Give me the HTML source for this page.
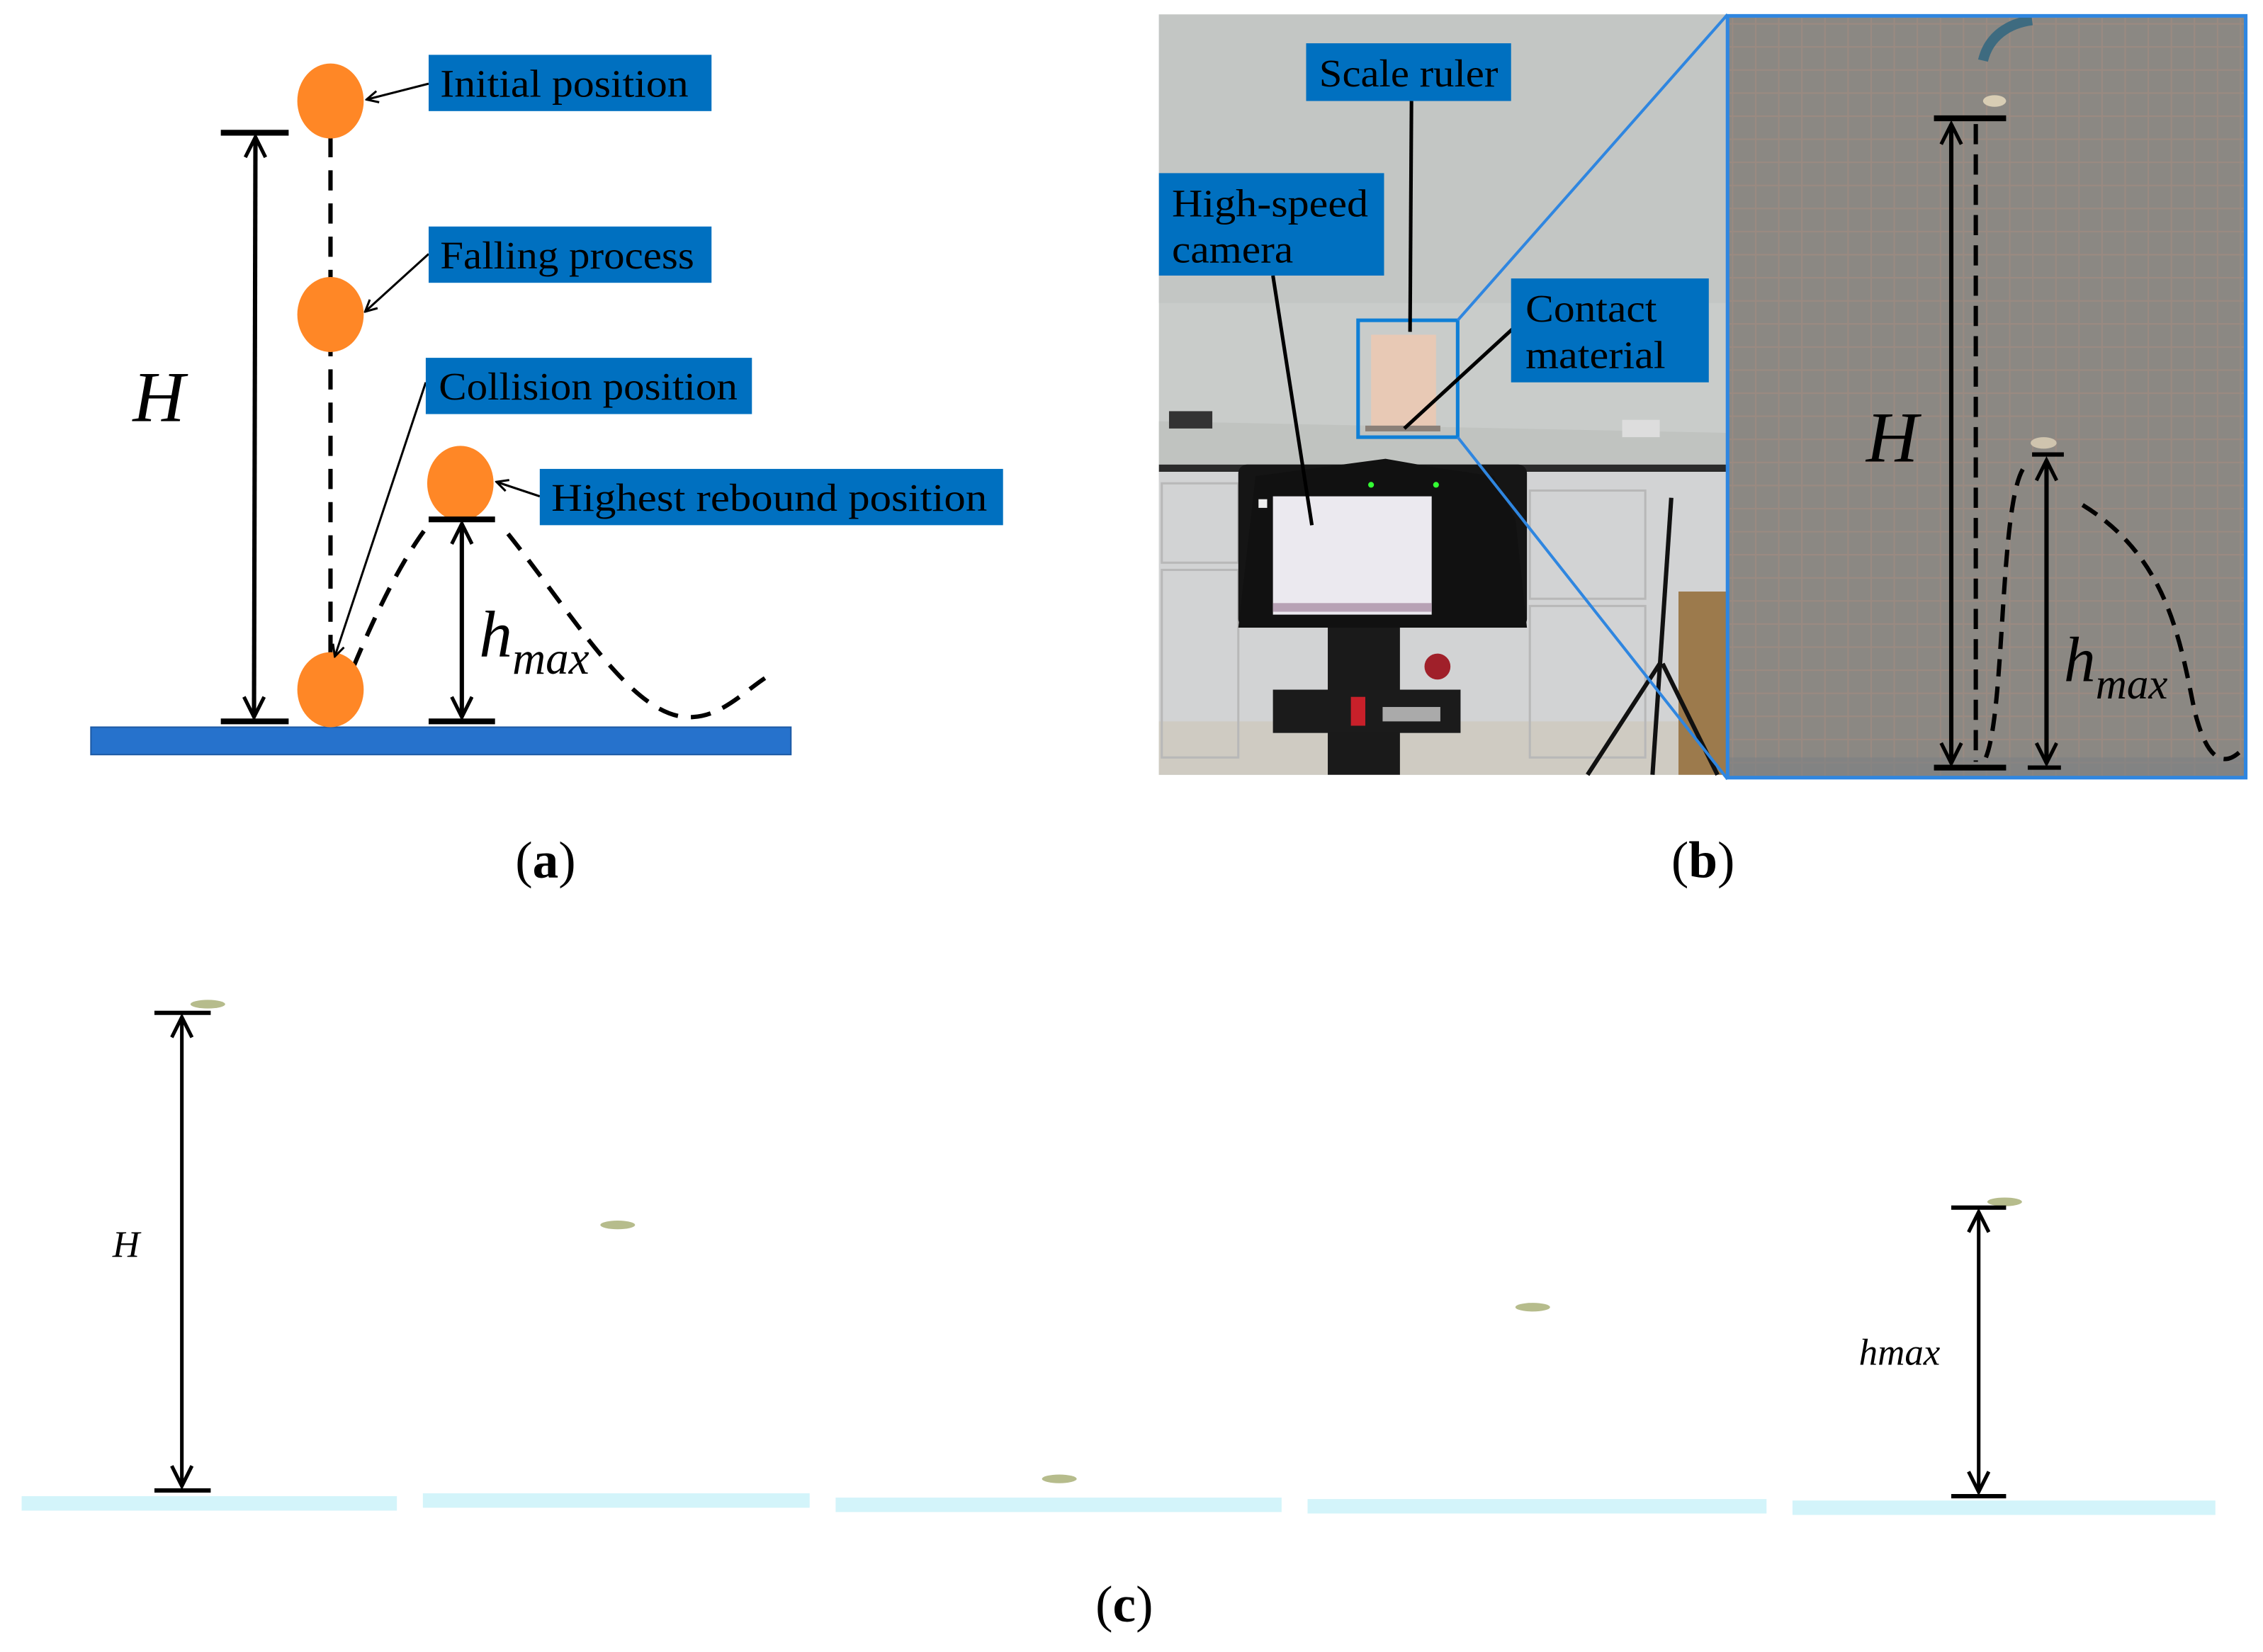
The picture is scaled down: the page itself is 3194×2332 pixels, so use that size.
<!DOCTYPE html>
<html><head><meta charset="utf-8"><style>
html,body{margin:0;padding:0;background:#fff;}
svg{display:block;}
text{font-family:"Liberation Serif",serif;}
</style></head><body>
<svg width="3194" height="2332" viewBox="0 0 1568 1145" preserveAspectRatio="none" xmlns="http://www.w3.org/2000/svg">
<defs>
<marker id="ah" markerWidth="10" markerHeight="10" refX="9" refY="5" orient="auto" markerUnits="userSpaceOnUse"><path d="M1,1 L9,5 L1,9" fill="none" stroke="#000" stroke-width="1.5"/></marker>
<marker id="ab" markerWidth="20" markerHeight="20" refX="15" refY="8" orient="auto-start-reverse" markerUnits="userSpaceOnUse"><path d="M1,1 L15,8 L1,15" fill="none" stroke="#000" stroke-width="2.5"/></marker>
<pattern id="grid" width="16" height="16" patternUnits="userSpaceOnUse"><rect width="16" height="16" fill="#8d8985"/><path d="M0,0.5 H16 M0.5,0 V16" stroke="#a48c82" stroke-width="1"/></pattern>
</defs>

<!-- Panel (a) -->
<rect x="63" y="504" width="485" height="19" fill="#2672CC" stroke="#1d5aa5" stroke-width="1"/>
<line x1="229" y1="95" x2="229" y2="458" stroke="#000" stroke-width="3" stroke-dasharray="14,9"/>
<path d="M245,462 Q275,390 300,360" fill="none" stroke="#000" stroke-width="3" stroke-dasharray="14,9"/>
<path d="M352,370 C400,430 440,500 480,497 C500,496 515,480 530,470" fill="none" stroke="#000" stroke-width="3" stroke-dasharray="14,9"/>
<ellipse cx="229" cy="70" rx="23" ry="26" fill="#FF8726"/>
<ellipse cx="229" cy="218" rx="23" ry="26" fill="#FF8726"/>
<ellipse cx="229" cy="478" rx="23" ry="26" fill="#FF8726"/>
<ellipse cx="319" cy="335" rx="23" ry="26" fill="#FF8726"/>
<line x1="153" y1="92" x2="200" y2="92" stroke="#000" stroke-width="4"/>
<line x1="153" y1="500" x2="200" y2="500" stroke="#000" stroke-width="4"/>
<line x1="177" y1="95" x2="176" y2="497" stroke="#000" stroke-width="3" marker-start="url(#ab)" marker-end="url(#ab)"/>
<line x1="297" y1="360" x2="343" y2="360" stroke="#000" stroke-width="4"/>
<line x1="297" y1="500" x2="343" y2="500" stroke="#000" stroke-width="4"/>
<line x1="320" y1="363" x2="320" y2="497" stroke="#000" stroke-width="3" marker-start="url(#ab)" marker-end="url(#ab)"/>
<text x="92" y="292" font-size="50" font-style="italic">H</text>
<text x="332" y="455" font-size="46" font-style="italic">h<tspan font-size="32" dy="12">max</tspan></text>
<line x1="297" y1="58" x2="254" y2="69" stroke="#000" stroke-width="1.5" marker-end="url(#ah)"/>
<line x1="297" y1="176" x2="253" y2="216" stroke="#000" stroke-width="1.5" marker-end="url(#ah)"/>
<line x1="295" y1="265" x2="232" y2="455" stroke="#000" stroke-width="1.5" marker-end="url(#ah)"/>
<line x1="374" y1="344" x2="344" y2="334" stroke="#000" stroke-width="1.5" marker-end="url(#ah)"/>
<rect x="297" y="38" width="196" height="39" fill="#0070C0"/>
<text x="305" y="67" font-size="27" textLength="172" lengthAdjust="spacingAndGlyphs">Initial position</text>
<rect x="297" y="157" width="196" height="39" fill="#0070C0"/>
<text x="305" y="186" font-size="27" textLength="176" lengthAdjust="spacingAndGlyphs">Falling process</text>
<rect x="295" y="248" width="226" height="39" fill="#0070C0"/>
<text x="304" y="277" font-size="27" textLength="207" lengthAdjust="spacingAndGlyphs">Collision position</text>
<rect x="374" y="325" width="321" height="39" fill="#0070C0"/>
<text x="382" y="354" font-size="27" textLength="302" lengthAdjust="spacingAndGlyphs">Highest rebound position</text>
<text x="378" y="608" font-size="36" text-anchor="middle">(<tspan font-weight="bold">a</tspan>)</text>

<!-- Panel (b) photo -->
<rect x="803" y="10" width="393" height="527" fill="#c9ccca"/>
<rect x="803" y="10" width="393" height="200" fill="#c3c6c4"/>
<polygon points="803,292 1196,300 1196,330 803,322" fill="#c0c3c0"/>
<rect x="803" y="322" width="393" height="5" fill="#2a2a2a"/>
<rect x="803" y="327" width="393" height="210" fill="#d2d3d4"/>
<rect x="803" y="500" width="393" height="37" fill="#cfcbc2"/>
<g stroke="#b8b8b8" stroke-width="1.5" fill="none">
<rect x="805" y="335" width="53" height="55"/><rect x="805" y="395" width="53" height="130"/>
<rect x="1060" y="340" width="80" height="75"/><rect x="1060" y="420" width="80" height="105"/>
</g>
<rect x="950" y="232" width="45" height="65" fill="#e8c9b5"/>
<rect x="946" y="295" width="52" height="4" fill="#8a8078"/>
<rect x="1124" y="291" width="26" height="12" fill="#ddd"/>
<rect x="810" y="285" width="30" height="12" fill="#333"/>
<rect x="858" y="322" width="200" height="113" rx="6" fill="#151515"/>
<path d="M870,330 L960,318 L1000,325 L1035,330 L1050,360 L1058,435 L858,435 Z" fill="#111"/>
<rect x="882" y="344" width="110" height="82" fill="#ebe9ef"/>
<rect x="882" y="418" width="110" height="6" fill="#b7a2b5"/>
<rect x="872" y="346" width="6" height="6" fill="#eee"/>
<circle cx="950" cy="336" r="2" fill="#3f3"/><circle cx="995" cy="336" r="2" fill="#3f3"/>
<rect x="920" y="435" width="50" height="102" fill="#1a1a1a"/>
<rect x="882" y="478" width="130" height="30" fill="#1b1b1b"/>
<rect x="936" y="483" width="10" height="20" fill="#c8202a"/>
<rect x="958" y="490" width="40" height="10" fill="#aaa"/>
<circle cx="996" cy="462" r="9" fill="#a0202a"/>
<rect x="1163" y="410" width="33" height="127" fill="#9c7a4c"/>
<g stroke="#111" stroke-width="3" fill="none"><line x1="1158" y1="345" x2="1145" y2="537"/><line x1="1150" y1="460" x2="1100" y2="537"/><line x1="1152" y1="460" x2="1190" y2="537"/></g>
<rect x="941" y="222" width="69" height="81" fill="none" stroke="#0f7fd6" stroke-width="2.5"/>
<line x1="1010" y1="222" x2="1197" y2="10" stroke="#2f86e0" stroke-width="2"/>
<line x1="1010" y1="303" x2="1197" y2="540" stroke="#2f86e0" stroke-width="2"/>
<line x1="978" y1="70" x2="977" y2="230" stroke="#000" stroke-width="2.5"/>
<line x1="882" y1="191" x2="909" y2="364" stroke="#000" stroke-width="2.5"/>
<line x1="1048" y1="228" x2="973" y2="297" stroke="#000" stroke-width="2.5"/>
<rect x="905" y="30" width="142" height="40" fill="#0070C0"/>
<text x="914" y="60" font-size="27" textLength="124" lengthAdjust="spacingAndGlyphs">Scale ruler</text>
<rect x="803" y="120" width="156" height="71" fill="#0070C0"/>
<text x="812" y="150" font-size="27" textLength="136" lengthAdjust="spacingAndGlyphs">High-speed</text>
<text x="812" y="182" font-size="27" textLength="84" lengthAdjust="spacingAndGlyphs">camera</text>
<rect x="1047" y="193" width="137" height="72" fill="#0070C0"/>
<text x="1057" y="223" font-size="27" textLength="91" lengthAdjust="spacingAndGlyphs">Contact</text>
<text x="1057" y="255" font-size="27" textLength="97" lengthAdjust="spacingAndGlyphs">material</text>

<!-- zoomed panel -->
<rect x="1197" y="11" width="359" height="528" fill="url(#grid)"/>
<rect x="1197" y="11" width="359" height="528" fill="#8a8681" opacity="0.35"/>
<rect x="1197" y="525" width="359" height="14" fill="#7d8084" opacity="0.6"/>
<path d="M1374,42 C1378,25 1392,16 1408,14" stroke="#3e6b80" stroke-width="7" fill="none"/>
<ellipse cx="1382" cy="70" rx="8" ry="4" fill="#d8cdb4"/>
<ellipse cx="1416" cy="307" rx="9" ry="4" fill="#cfc4ae"/>
<rect x="1197" y="11" width="359" height="528" fill="none" stroke="#2f86e0" stroke-width="2.5"/>
<line x1="1340" y1="82" x2="1390" y2="82" stroke="#000" stroke-width="4"/>
<line x1="1340" y1="532" x2="1390" y2="532" stroke="#000" stroke-width="4"/>
<line x1="1369" y1="86" x2="1369" y2="528" stroke="#000" stroke-width="3" stroke-dasharray="14,7"/>
<line x1="1352" y1="86" x2="1352" y2="529" stroke="#000" stroke-width="3" marker-start="url(#ab)" marker-end="url(#ab)"/>
<line x1="1408" y1="315" x2="1430" y2="315" stroke="#000" stroke-width="3"/>
<line x1="1405" y1="532" x2="1428" y2="532" stroke="#000" stroke-width="3"/>
<line x1="1418" y1="319" x2="1418" y2="529" stroke="#000" stroke-width="3" marker-start="url(#ab)" marker-end="url(#ab)"/>
<path d="M1376,525 C1390,490 1385,340 1404,322" fill="none" stroke="#000" stroke-width="3" stroke-dasharray="12,7"/>
<path d="M1443,350 C1500,385 1510,440 1520,490 C1528,525 1540,535 1555,518" fill="none" stroke="#000" stroke-width="3" stroke-dasharray="12,7"/>
<text x="1293" y="320" font-size="50" font-style="italic">H</text>
<text x="1430" y="472" font-size="44" font-style="italic">h<tspan font-size="30" dy="12">max</tspan></text>
<text x="1180" y="608" font-size="36" text-anchor="middle">(<tspan font-weight="bold">b</tspan>)</text>

<!-- Panel (c) -->
<rect x="15" y="1037" width="260" height="10" fill="#d3f4fa"/>
<rect x="293" y="1035" width="268" height="10" fill="#d3f4fa"/>
<rect x="579" y="1038" width="309" height="10" fill="#d3f4fa"/>
<rect x="906" y="1039" width="318" height="10" fill="#d3f4fa"/>
<rect x="1242" y="1040" width="293" height="10" fill="#d3f4fa"/>
<g fill="#b6bc8c"><ellipse cx="144" cy="696" rx="12" ry="3"/><ellipse cx="428" cy="849" rx="12" ry="3"/><ellipse cx="734" cy="1025" rx="12" ry="3"/><ellipse cx="1062" cy="906" rx="12" ry="3"/><ellipse cx="1389" cy="833" rx="12" ry="3"/></g>
<line x1="107" y1="702" x2="146" y2="702" stroke="#000" stroke-width="3"/>
<line x1="107" y1="1033" x2="146" y2="1033" stroke="#000" stroke-width="3"/>
<line x1="126" y1="705" x2="126" y2="1030" stroke="#000" stroke-width="2.5" marker-start="url(#ab)" marker-end="url(#ab)"/>
<line x1="1352" y1="837" x2="1390" y2="837" stroke="#000" stroke-width="3"/>
<line x1="1352" y1="1037" x2="1390" y2="1037" stroke="#000" stroke-width="3"/>
<line x1="1371" y1="840" x2="1371" y2="1034" stroke="#000" stroke-width="2.5" marker-start="url(#ab)" marker-end="url(#ab)"/>
<text x="78" y="871" font-size="26" font-style="italic">H</text>
<text x="1288" y="946" font-size="26" font-style="italic">hmax</text>
<text x="779" y="1124" font-size="36" text-anchor="middle">(<tspan font-weight="bold">c</tspan>)</text>
</svg>
</body></html>
